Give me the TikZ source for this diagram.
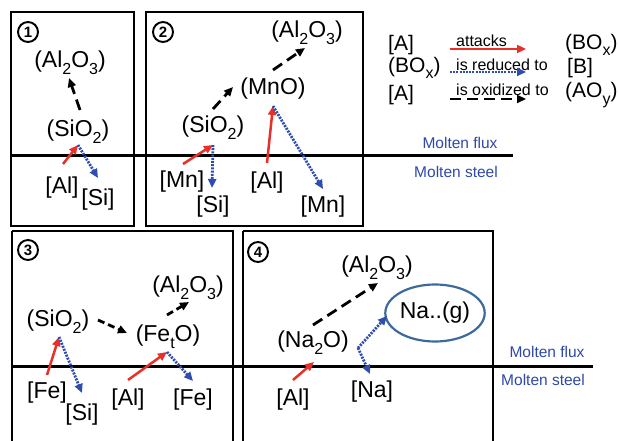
\documentclass[tikz,border=0pt]{standalone}
\usepackage{fontspec}
\setmainfont{Liberation Sans}
\usetikzlibrary{arrows.meta,shapes.geometric}
\definecolor{atkred}{HTML}{E8302A}
\definecolor{redblue}{HTML}{2F4CB0}
\definecolor{phaseblue}{HTML}{2E48A8}
\definecolor{gasblue}{HTML}{3D6A9C}
\newcommand\lw[1]{\raisebox{-0.3em}{\fontsize{16}{16}\selectfont #1}}
\tikzset{
  frame/.style={draw=black,line width=2.4pt},
  iface/.style={draw=black,line width=3pt},
  lbl/.style={font=\fontsize{23}{25}\selectfont,inner sep=0pt},
  leg/.style={font=\fontsize{21}{23}\selectfont,inner sep=0pt,anchor=west},
  legtxt/.style={font=\fontsize{16}{18}\selectfont,inner sep=0pt,anchor=west},
  phase/.style={font=\fontsize{15.5}{17}\selectfont,text=phaseblue,inner sep=0pt},
  num/.style={circle,draw=black,line width=1.9pt,minimum size=20pt,inner sep=0pt,font=\fontsize{15}{15}\selectfont\bfseries},
  attack/.style={draw=atkred,line width=2.5pt,-{Triangle[length=9pt,width=8pt]}},
  reduce/.style={draw=redblue,line width=2.8pt,dash pattern=on 2pt off 1.2pt,-{Triangle[length=9pt,width=8pt]}},
  oxid/.style={draw=black,line width=2.8pt,dash pattern=on 11pt off 6pt,-{Triangle[length=9pt,width=8pt]}},
}
\begin{document}
\begin{tikzpicture}[x=1pt,y=-1pt]
\useasboundingbox (0,0) rectangle (618,441);

% panels
\draw[frame] (11,12) rectangle (134,226);
\draw[frame] (146,12) rectangle (363,226);
\draw[frame] (12,231) -- (12,445) (12,231) -- (233,231) -- (233,445);
\draw[frame] (243,231) -- (243,445) (243,231) -- (493,231) -- (493,445);

% flux / steel interfaces
\coordinate (i1a) at (11,155);
\coordinate (i1b) at (513,155);
\coordinate (i2a) at (12,366);
\coordinate (i2b) at (593,366);
\draw[iface] (i1a) -- (i1b);
\draw[iface] (i2a) -- (i2b);
\node[phase] (fl1) at (460,143) {Molten flux};
\node[phase] (st1) at (456,172) {Molten steel};
\node[phase] (fl2) at (547,352) {Molten flux};
\node[phase] (st2) at (543,380) {Molten steel};

% panel numbers
\node[num] (n1) at (28,32) {1};
\node[num] (n2) at (163,32) {2};
\node[num] (n3) at (28,250) {3};
\node[num] (n4) at (258,252) {4};

% legend
\node[leg] (lA1) at (388,45) {[A]};
\node[leg] (lB1) at (388,68) {(BO\lw{x})};
\node[leg] (lA2) at (388,95) {[A]};
\node[leg] (rB1) at (565,45) {(BO\lw{x})};
\node[leg] (rB2) at (567,68) {[B]};
\node[leg] (rA) at (565,95) {(AO\lw{y})};
\node[legtxt] (tA) at (456,41) {attacks};
\node[legtxt] (tR) at (456,65) {is reduced to};
\node[legtxt] (tO) at (456,90) {is oxidized to};
\coordinate (la1) at (450,49);  \coordinate (la2) at (526,49);
\coordinate (lr1) at (450,72);  \coordinate (lr2) at (526,72);
\coordinate (lo1) at (450,99);  \coordinate (lo2) at (526,99);
\draw[attack] (la1) -- (la2);
\draw[reduce] (lr1) -- (lr2);
\draw[oxid] (lo1) -- (lo2);

% panel 1
\node[lbl] (p1ox) at (70,63) {(Al\lw2O\lw3)};
\node[lbl] (p1si) at (78,132) {(SiO\lw2)};
\node[lbl] (p1al) at (62,188) {[Al]};
\node[lbl] (p1sim) at (98,200) {[Si]};
\coordinate (p1s) at (78,145);
\coordinate (p1a) at (63,164);
\coordinate (p1o1) at (80,110);
\coordinate (p1o2) at (69,78);
\coordinate (p1r) at (98,178);
\draw[oxid] (p1o1) -- (p1o2);
\draw[attack] (p1a) -- (p1s);
\draw[reduce] (p1s) -- (p1r);

% panel 2
\node[lbl] (p2ox) at (307,33) {(Al\lw2O\lw3)};
\node[lbl] (p2mo) at (273,89) {(MnO)};
\node[lbl] (p2si) at (213,128) {(SiO\lw2)};
\node[lbl] (p2mn) at (182,182) {[Mn]};
\node[lbl] (p2sim) at (213,207) {[Si]};
\node[lbl] (p2al) at (267,183) {[Al]};
\node[lbl] (p2mnm) at (323,207) {[Mn]};
\coordinate (p2s) at (213,145);
\coordinate (p2m) at (273,106);
\coordinate (p2o1) at (213,109); \coordinate (p2o2) at (233,87);
\coordinate (p2o3) at (273,70);  \coordinate (p2o4) at (305,48);
\coordinate (p2a1) at (183,164);
\coordinate (p2r1) at (212,188);
\coordinate (p2a2) at (267,163);
\coordinate (p2r2) at (323,189);
\draw[oxid] (p2o1) -- (p2o2);
\draw[oxid] (p2o3) -- (p2o4);
\draw[attack] (p2a1) -- (p2s);
\draw[reduce] (p2s) -- (p2r1);
\draw[attack] (p2a2) -- (p2m);
\draw[reduce] (p2m) -- (p2r2);

% panel 3
\node[lbl] (p3si) at (58,322) {(SiO\lw2)};
\node[lbl] (p3fe) at (168,337) {(Fe\lw{t}O)};
\node[lbl] (p3ox) at (188,288) {(Al\lw2O\lw3)};
\node[lbl] (p3fem) at (47,393) {[Fe]};
\node[lbl] (p3sim) at (82,415) {[Si]};
\node[lbl] (p3al) at (128,400) {[Al]};
\node[lbl] (p3fem2) at (193,400) {[Fe]};
\coordinate (p3s) at (59,337);
\coordinate (p3f) at (167,352);
\coordinate (p3o1) at (98,320);  \coordinate (p3o2) at (127,333);
\coordinate (p3o3) at (167,315); \coordinate (p3o4) at (189,302);
\coordinate (p3a1) at (47,375);
\coordinate (p3r1) at (82,393);
\coordinate (p3a2) at (128,380);
\coordinate (p3r2) at (193,381);
\draw[oxid,dash pattern=on 7pt off 4pt] (p3o1) -- (p3o2);
\draw[oxid,dash pattern=on 7pt off 4pt] (p3o3) -- (p3o4);
\draw[attack] (p3a1) -- (p3s);
\draw[reduce] (p3s) -- (p3r1);
\draw[attack] (p3a2) -- (p3f);
\draw[reduce] (p3f) -- (p3r2);

% panel 4
\node[lbl] (p4ox) at (377,268) {(Al\lw2O\lw3)};
\node[lbl] (p4na) at (313,343) {(Na\lw2O)};
\node[lbl] (p4al) at (293,400) {[Al]};
\node[lbl] (p4nam) at (372,392) {[Na]};
\node[ellipse,draw=gasblue,line width=2.2pt,minimum width=93pt,minimum height=57pt,inner sep=0pt,font=\fontsize{23}{25}\selectfont] (p4g) at (435,313) {Na..(g)};
\coordinate (p4n) at (314,362);
\coordinate (p4a) at (293,380);
\coordinate (p4o1) at (313,325); \coordinate (p4o2) at (378,283);
\coordinate (p4k) at (358,348);
\coordinate (p4r) at (370,374);
\coordinate (p4g1) at (387,316);
\draw[oxid] (p4o1) -- (p4o2);
\draw[attack] (p4a) -- (p4n);
\draw[reduce] (p4k) -- (p4r);
\draw[reduce] (p4k) -- (p4g1);
\end{tikzpicture}
\end{document}
